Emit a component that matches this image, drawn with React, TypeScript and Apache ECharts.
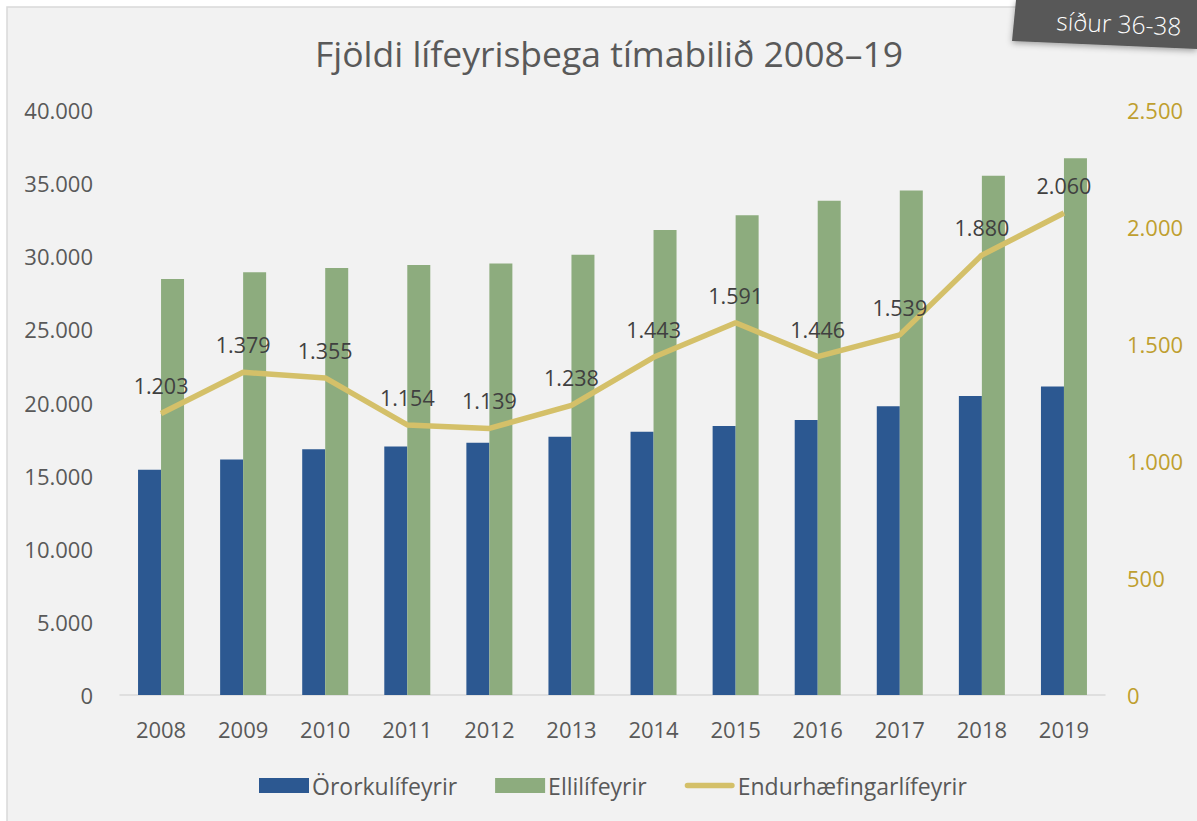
import React, { useEffect, useRef } from "react";
import * as echarts from "echarts";

const years = ["2008","2009","2010","2011","2012","2013","2014","2015","2016","2017","2018","2019"];
const ororku = [15400, 16100, 16800, 17000, 17250, 17650, 18000, 18400, 18800, 19750, 20450, 21100];
const elli = [28450, 28900, 29200, 29400, 29500, 30100, 31800, 32800, 33800, 34500, 35500, 36700];
const endurhaef = [1203, 1379, 1355, 1154, 1139, 1238, 1443, 1591, 1446, 1539, 1880, 2060];
const leftTicks = [0, 5000, 10000, 15000, 20000, 25000, 30000, 35000, 40000];
const rightTicks = [0, 500, 1000, 1500, 2000, 2500];

const FONT = "'Open Sans', 'Noto Sans', sans-serif";
const fmt = (v: number) => String(v).replace(/\B(?=(\d{3})+(?!\d))/g, ".");

export default function App() {
  const ref = useRef<HTMLDivElement>(null);
  useEffect(() => {
    if (!ref.current) return;
    const chart = echarts.init(ref.current, undefined, { renderer: "svg" });
    chart.setOption({
      animation: false,
      backgroundColor: "#ffffff",
      textStyle: { fontFamily: FONT },
      graphic: [
        {
          type: "rect",
          shape: { x: 7, y: 7, width: 1200, height: 830 },
          style: { fill: "#f2f2f2", stroke: "#d9d9d9", lineWidth: 1.5 },
          z: -10,
        },
        {
          type: "polygon",
          shape: { points: [[1016, 0], [1197, 0], [1197, 49], [1012, 41]] },
          style: { fill: "#595959", shadowBlur: 6, shadowColor: "rgba(0,0,0,0.35)", shadowOffsetY: 2 },
          z: 10,
        },
        {
          type: "text",
          x: 1057,
          y: 8,
          rotation: -0.045,
          style: { text: "síður 36-38", fill: "#ffffff", font: `300 24.5px ${FONT}` },
          z: 11,
        },
      ],
      title: {
        text: "Fjöldi lífeyrisþega tímabilið 2008–19",
        left: 604,
        textAlign: "center",
        top: 30,
        textStyle: { color: "#595959", fontSize: 35.5, fontWeight: "normal", fontFamily: FONT },
      },
      legend: {
        bottom: 19,
        left: 254,
        itemGap: 38,
        itemWidth: 50,
        itemHeight: 15,
        textStyle: { color: "#595959", fontSize: 23, fontFamily: FONT, padding: [0, 0, 0, -2] },
        data: [
          { name: "Örorkulífeyrir", icon: "rect" },
          { name: "Ellilífeyrir", icon: "rect" },
          { name: "Endurhæfingarlífeyrir", icon: "path://M0,5.5 L40,5.5 A2.5,2.5 0 0 1 40,10.5 L0,10.5 A2.5,2.5 0 0 1 0,5.5 Z" },
        ],
      },
      grid: { left: 120, right: 92, top: 110, bottom: 126 },
      xAxis: {
        type: "category",
        data: years,
        axisLine: { lineStyle: { color: "#d9d9d9", width: 1.5 } },
        axisTick: { show: false },
        axisLabel: { color: "#595959", fontSize: 22, margin: 23, fontFamily: FONT },
      },
      yAxis: [
        {
          type: "value",
          min: leftTicks[0],
          max: leftTicks[leftTicks.length - 1],
          interval: 5000,
          splitLine: { show: false },
          axisLine: { show: false },
          axisLabel: { color: "#595959", fontSize: 22, margin: 27, formatter: (v: number) => fmt(v), fontFamily: FONT },
        },
        {
          type: "value",
          min: rightTicks[0],
          max: rightTicks[rightTicks.length - 1],
          interval: 500,
          splitLine: { show: false },
          axisLine: { show: false },
          axisLabel: { color: "#bf9f2f", fontSize: 22, margin: 22, formatter: (v: number) => fmt(v), fontFamily: FONT },
        },
      ],
      series: [
        {
          name: "Örorkulífeyrir",
          type: "bar",
          data: ororku,
          barWidth: 23,
          barGap: "0%",
          itemStyle: { color: "#2c5891" },
        },
        {
          name: "Ellilífeyrir",
          type: "bar",
          data: elli,
          barWidth: 23,
          barGap: "0%",
          itemStyle: { color: "#8dac7e" },
        },
        {
          name: "Endurhæfingarlífeyrir",
          type: "line",
          yAxisIndex: 1,
          data: endurhaef,
          symbol: "circle",
          symbolSize: 1,
          showSymbol: true,
          lineStyle: { color: "#d4c069", width: 5.5 },
          itemStyle: { color: "#d4c069" },
          label: {
            show: true,
            position: "top",
            distance: 16,
            color: "#404040",
            fontSize: 21.5,
            fontFamily: FONT,
            formatter: (p: any) => fmt(p.value),
          },
          z: 5,
        },
      ],
    });
    return () => chart.dispose();
  }, []);
  return <div ref={ref} style={{ position: "fixed", left: 0, top: 0, width: 1197, height: 821 }} />;
}
